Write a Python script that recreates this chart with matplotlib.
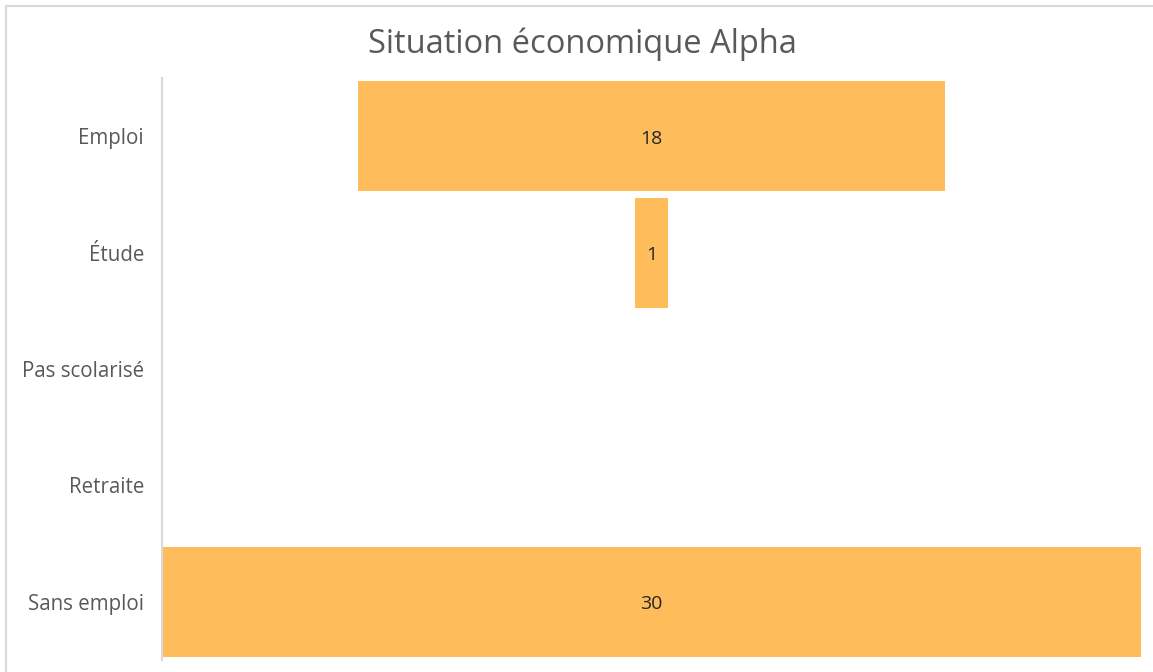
import matplotlib.pyplot as plt
from matplotlib.patches import Rectangle

categories = ['Emploi', 'Étude', 'Pas scolarisé', 'Retraite', 'Sans emploi']
values = [18, 1, 0, 0, 30]

bar_color = '#FFBC5A'
text_color = '#595959'

plt.rcParams['font.family'] = ['Open Sans', 'DejaVu Sans']

fig = plt.figure(figsize=(11.53, 6.72), dpi=100)
fig.patches.append(Rectangle((6 / 1153, -0.05), 1.1, 1 - 5.5 / 672 + 0.05,
                             transform=fig.transFigure, fill=False,
                             edgecolor='#D9D9D9', linewidth=1.5))

ax = fig.add_axes([162 / 1153, 1 - 660 / 672, (1141 - 162) / 1153, (660 - 78) / 672])

y = list(range(len(categories)))
lefts = [-v / 2 for v in values]
ax.barh(y, values, left=lefts, height=0.945, color=bar_color)

for yi, v in zip(y, values):
    if v > 0:
        ax.text(0, yi + 0.02, str(v), ha='center', va='center', fontsize=14, color='#262626')

ax.set_xlim(-15, 15)
ax.set_ylim(len(categories) - 0.5, -0.5)
ax.set_yticks(y)
ax.set_yticklabels(categories, fontsize=14.8, color=text_color)
ax.tick_params(axis='y', length=0, pad=13)
ax.set_xticks([])

for s in ['top', 'right', 'bottom']:
    ax.spines[s].set_visible(False)
ax.spines['left'].set_color('#D9D9D9')
ax.spines['left'].set_linewidth(1.5)

fig.text(582 / 1153, 1 - 44 / 672, 'Situation économique Alpha', ha='center', va='center',
         fontsize=23.5, color=text_color)

fig.savefig('out.png', dpi=100)
